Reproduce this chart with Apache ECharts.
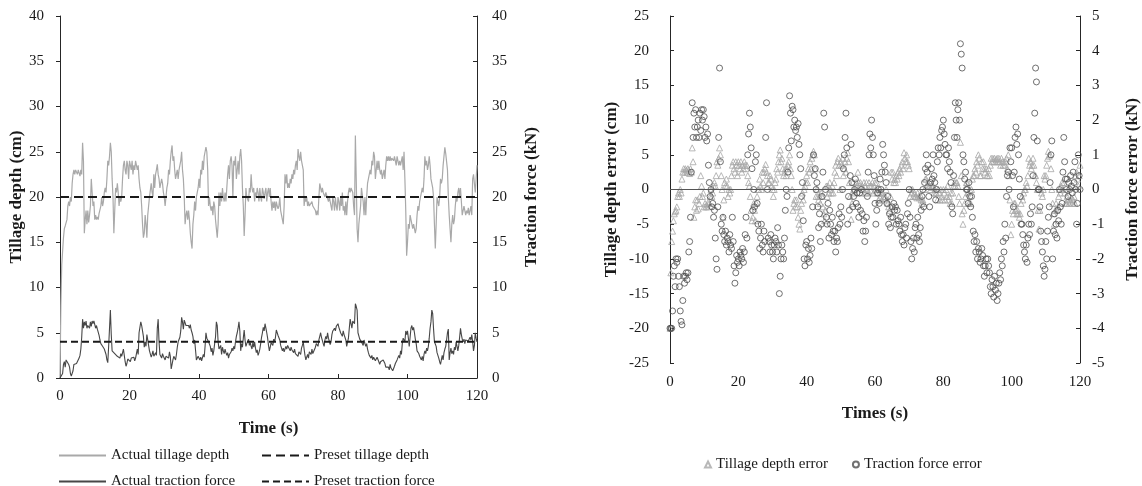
<!DOCTYPE html>
<html>
<head>
<meta charset="utf-8">
<script src="https://cdn.jsdelivr.net/npm/echarts@6/dist/echarts.min.js"></script>
<style>
html, body { margin: 0; padding: 0; background: #fff; }
#main { width: 1142px; height: 486px; }
</style>
</head>
<body>
<div id="main"></div>
<script>
// sampling step of the recorded data (s)
var step = 0.25;

// actual tillage depth (cm), one row per second
var depth = [
0, 8, 12.5, 14,  15.5, 16.5, 16.8, 17,  17.5, 19, 19.5, 19,  20, 19.5, 21.5, 22.5,
23, 22.5, 23, 22.8,  22.5, 23, 22.8, 22.3,  23, 22.5, 26, 24,  16, 17.5, 18.5, 17,
18.5, 17.2, 18, 19,  22, 20.5, 19, 19.5,  17.5, 18, 17.5, 17.8,  17.5, 18.2, 18, 19,
20, 19, 19.5, 20.5,  21, 20.5, 22, 24,  23.5, 24.5, 26, 25,  22, 20, 16, 18.5,
21, 20.5, 21.5, 20.5,  19, 20, 19.5, 20,  22, 23.5, 24, 23,  22.5, 24, 23.5, 22,
24, 23.5, 23, 24,  22.5, 23.5, 23, 24,  23.5, 23, 23.5, 22,  21, 20.5, 19, 17,
15.5, 16, 18, 17,  15.5, 18, 19, 20,  20, 21.5, 20.5, 20,  22.5, 21, 22.5, 23,
23.6, 22.5, 22, 21,  21, 22, 21.5, 20.5,  20, 19, 20, 21,  21.5, 23, 22.5, 24,
25, 25.7, 24, 24.5,  23, 22, 22.5, 23,  22, 23, 23.5, 24,  25, 23, 22, 20,
17, 18, 18.5, 17.5,  18.5, 17.5, 16, 15,  14.3, 17, 18, 19.5,  18.5, 20, 20.5, 21,
22, 21, 23, 22.5,  24, 23, 24.5, 25,  25.5, 25, 23, 19,  20, 19, 18.5, 19,
18, 19.5, 19, 17.5,  16.5, 15.5, 17, 20.5,  19, 20.5, 19.5, 21,  20, 19.5, 20.5, 19.5,
21, 22.5, 23.5, 22,  24, 24.5, 23.5, 20,  24, 23.5, 24.5, 22,  23, 24, 22.5, 24.5,
25.3, 24, 21, 19,  15.7, 18, 21, 20,  20, 19.5, 21, 20.5,  22.5, 21, 20.5, 21,
19.5, 20.5, 20, 21,  20.5, 19.5, 21, 20,  19.5, 21, 20.5, 19.8,  20.5, 21, 19.5, 20.5,
21, 20, 21, 19.5,  18.5, 19.5, 18.8, 19.5,  18.5, 19.5, 19, 18.7,  19, 20, 18.5, 18,
17.5, 17, 19, 22.5,  21.5, 22.5, 21, 21.5,  21, 22, 21.5, 22.5,  22, 23, 22.5, 23.5,
24, 23, 25.3, 24.5,  24, 25, 24, 23.5,  23, 19, 20, 19.5,  20, 19, 19.5, 19,
19, 18.8, 19.5, 19,  18.8, 19.2, 18.5, 18,  18.5, 18, 20, 21.5,  21.5, 20.5, 21, 20.5,
20.5, 20, 20.5, 20.3,  20.5, 19.5, 20, 19.5,  19.5, 18.5, 20, 19.5,  18.5, 20, 19, 18.5,
20, 19.5, 18.5, 20,  19, 20.5, 18.5, 19,  18, 19.5, 18, 19.5,  20.5, 21, 20.5, 21,
21, 20.5, 19, 18,  26.8, 22, 16.5, 15,  17, 18, 19, 21,  21, 19.5, 18, 20,
18, 20, 21.5, 22,  22, 23, 22.5, 24,  23.5, 25, 24.5, 22,  22, 24, 23, 24,
23, 22.5, 23, 22,  22, 23, 22, 23.5,  24.5, 24, 24.5, 24,  24.5, 24, 24.3, 24.5,
24, 24.5, 24, 23.5,  24.5, 24, 23.5, 24,  23.5, 24, 24.5, 23,  25, 22, 18.5, 13.5,
15, 17, 16.5, 18,  18, 17, 16.5, 17,  16.5, 16, 16.5, 18,  19, 18.5, 19.5, 20,
20, 21, 20.5, 22,  24.5, 23.5, 24, 23,  23.5, 24.5, 23.5, 22,  22, 21, 20, 17,
14.3, 17, 20, 19.5,  19, 20, 22, 21.5,  22, 23.5, 24.5, 25.5,  24.8, 25, 23, 20,
18, 16.5, 15, 17,  18, 17, 17.5, 19,  20, 19.5, 20.5, 21,  20, 21, 19.5, 18,
18, 19, 18.5, 18,  18.5, 18.2, 18.8, 18,  18.5, 19, 18, 22,  22.5, 21.5, 20.5, 22,
23.5
];

// actual traction force (kN), one row per second
var force = [
0, 0, 0, 0.5,  1.5, 1.8, 1.2, 2,  1.9, 2, 1.5, 1.2,  0.5, 0.2, 0.1, 0.8,
1.5, 1.3, 1.5, 1.6,  1.4, 1.6, 2.2, 2.5,  3.2, 4.5, 6.5, 5.5,  6.2, 5.8, 6.3, 5.5,
5.8, 6.0, 5.5, 6.2,  5.7, 6.3, 6.0, 6.3,  6.1, 5.5, 5.8, 5.4,  5.6, 4.7, 4.2, 3.8,
4.0, 3.5, 3.6, 3.2,  3.4, 2.6, 2.0, 1.7,  3.5, 5.5, 7.5, 4.8,  3.0, 2.8, 3.2, 2.7,
2.5, 2.8, 2.4, 2.6,  2.5, 2.2, 2.7, 2.4,  2.3, 3.2, 2.5, 1.8,  1.3, 1.6, 2.1, 1.9,
2.0, 1.8, 2.2, 2.1,  2.0, 2.3, 1.9, 2.2,  2.7, 3.2, 2.6, 5.0,  5.6, 6.2, 5.8, 5.2,
4.6, 3.4, 4.0, 3.5,  4.8, 5.0, 3.6, 3.0,  2.8, 2.3, 2.6, 3.0,  2.4, 2.2, 2.8, 2.5,
5.5, 6.5, 4.0, 2.6,  2.5, 2.2, 2.7, 2.4,  2.2, 2.0, 2.4, 2.6,  2.5, 2.2, 2.9, 2.4,
1.0, 1.5, 2.0, 2.4,  2.2, 2.0, 2.6, 3.4,  4.0, 3.8, 4.5, 5.2,  6.7, 6.2, 5.4, 6.4,
6.3, 5.8, 6.0, 5.7,  5.8, 5.5, 5.9, 5.3,  5.0, 4.6, 3.8, 4.2,  3.1, 2.0, 1.8, 2.4,
2.5, 2.0, 2.3, 1.9,  2.1, 2.6, 2.3, 3.5,  5.0, 4.4, 4.6, 4.0,  4.2, 3.5, 2.9, 3.3,
2.5, 3.0, 3.8, 4.5,  6.2, 5.8, 4.0, 3.2,  3.0, 3.6, 2.6, 3.4,  3.0, 2.7, 3.2, 2.8,
2.5, 2.8, 2.2, 2.6,  2.5, 2.9, 3.3, 3.0,  3.5, 3.2, 4.0, 4.6,  5.0, 5.5, 6.2, 5.2,
3.0, 3.8, 3.4, 4.4,  5.3, 4.2, 3.5, 3.8,  4.0, 4.3, 3.6, 3.9,  3.5, 3.2, 3.9, 3.4,
4.0, 3.3, 2.8, 3.1,  2.5, 2.8, 3.2, 3.8,  4.5, 5.0, 5.6, 5.2,  6.0, 5.5, 5.0, 4.4,
3.6, 3.0, 3.4, 3.9,  4.0, 3.6, 4.3, 4.0,  4.5, 5.3, 5.0, 4.7,  4.5, 4.2, 3.6, 3.8,
3.0, 3.3, 2.9, 3.2,  3.5, 3.2, 3.6, 3.4,  3.5, 3.0, 3.4, 3.1,  3.0, 2.8, 3.2, 2.7,
2.5, 2.7, 2.4, 2.9,  3.0, 2.6, 3.3, 3.6,  4.0, 3.2, 2.5, 2.0,  2.3, 2.6, 2.2, 2.9,
3.0, 2.6, 3.2, 2.7,  2.5, 2.9, 3.4, 3.8,  4.0, 3.5, 4.2, 4.6,  5.0, 4.5, 4.7, 3.8,
3.5, 4.2, 4.6, 4.3,  5.0, 4.4, 4.2, 3.7,  4.0, 4.8, 5.2, 5.0,  5.5, 5.2, 5.7, 5.8,
6.0, 5.6, 5.3, 5.0,  5.0, 4.6, 5.2, 4.8,  4.5, 4.2, 3.5, 3.3,  4.4, 5.5, 6.5, 6.0,
5.5, 6.3, 6.5, 6.0,  8.2, 7.9, 7.5, 5.0,  4.8, 4.3, 4.5, 4.0,  4.0, 3.6, 4.2, 3.8,
3.5, 3.8, 3.2, 2.8,  2.5, 2.7, 2.2, 2.5,  2.0, 2.3, 2.2, 1.9,  2.0, 2.3, 2.1, 1.8,
1.5, 1.8, 2.0, 1.6,  2.0, 1.8, 1.6, 1.2,  1.0, 1.4, 1.2, 0.9,  1.5, 1.1, 1.3, 0.8,
1.0, 1.3, 1.6, 1.4,  2.0, 1.8, 2.5, 2.2,  3.0, 2.6, 3.8, 4.4,  4.5, 4.0, 5.2, 4.8,
5.2, 4.4, 3.5, 4.5,  5.5, 5.8, 5.3, 5.6,  5.0, 4.3, 3.8, 3.0,  3.0, 2.7, 2.4, 2.2,
2.0, 2.4, 1.9, 2.6,  3.0, 2.7, 3.3, 3.0,  3.5, 4.4, 5.5, 6.2,  7.5, 7.1, 5.4, 4.0,
4.0, 3.5, 2.8, 2.5,  2.2, 1.8, 1.5, 1.7,  2.5, 2.0, 2.8, 3.2,  3.5, 4.2, 5.0, 5.4,
2.0, 2.8, 3.3, 2.7,  3.0, 2.6, 3.4, 3.1,  4.0, 3.5, 3.0, 3.6,  4.5, 5.5, 4.8, 4.3,
4.0, 4.3, 3.8, 4.2,  4.0, 4.4, 4.1, 3.9,  4.5, 4.2, 4.8, 4.0,  3.0, 3.6, 5.0, 4.4,
4.0
];

// preset values
var presetDepth = 20;   // cm
var presetForce = 4;    // kN
var timeRange = [0, 120];

var depthData = depth.map(function (v, i) { return [i * step, v]; });
var forceData = force.map(function (v, i) { return [i * step, v]; });
var depthErr = depth.map(function (v, i) { return [i * step, +(v - presetDepth).toFixed(2)]; });
var forceErr = force.map(function (v, i) { return [i * step, +(v - presetForce).toFixed(2)]; });

var font = 'Liberation Serif';
var txt = '#1a1a1a';
var axisCol = '#262626';
var lab = { fontFamily: font, fontSize: 15, color: txt };
var nameStyle = { fontFamily: font, fontSize: 17, fontWeight: 'bold', color: txt };

var myChart = echarts.init(document.getElementById('main'));

var lineLegend = function (name, left, top) {
    return { data: [name], left: left, top: top, itemWidth: 47, itemHeight: 14,
             itemStyle: { opacity: 0 }, textStyle: lab };
};

var option = {
    animation: false,
    backgroundColor: '#fff',
    grid: [
        { left: 60, right: 665, top: 16, bottom: 108, containLabel: false, outerBoundsMode: 'none' },
        { left: 670, right: 62, top: 16, bottom: 123, containLabel: false, outerBoundsMode: 'none' }
    ],
    xAxis: [{
        gridIndex: 0, type: 'value', min: 0, max: 120, interval: 20,
        axisLine: { lineStyle: { color: axisCol } },
        axisTick: { inside: true, length: 4, lineStyle: { color: axisCol } },
        axisLabel: Object.assign({ margin: 11 }, lab),
        splitLine: { show: false },
        name: 'Time (s)', nameLocation: 'middle', nameGap: 42, nameTextStyle: nameStyle
    }, {
        // zero line is drawn as a markLine, labels stay at the bottom
        gridIndex: 1, type: 'value', min: 0, max: 120, interval: 20,
        axisLine: { show: false, onZero: false },
        axisTick: { show: false },
        axisLabel: Object.assign({ margin: 12 }, lab),
        splitLine: { show: false },
        name: 'Times (s)', nameLocation: 'middle', nameGap: 42, nameTextStyle: nameStyle
    }],
    yAxis: [{
        gridIndex: 0, type: 'value', position: 'left', min: 0, max: 40, interval: 5,
        axisLine: { show: true, lineStyle: { color: axisCol } },
        axisTick: { show: true, length: 4, lineStyle: { color: axisCol } },
        axisLabel: Object.assign({ margin: 16 }, lab),
        splitLine: { show: false },
        name: 'Tillage depth (cm)', nameLocation: 'middle', nameRotate: 90, nameGap: 34, nameTextStyle: nameStyle
    }, {
        gridIndex: 0, type: 'value', position: 'right', min: 0, max: 40, interval: 5,
        axisLine: { show: true, lineStyle: { color: axisCol } },
        axisTick: { show: true, inside: true, length: 4, lineStyle: { color: axisCol } },
        axisLabel: Object.assign({ margin: 15 }, lab),
        splitLine: { show: false },
        name: 'Traction force (kN)', nameLocation: 'middle', nameRotate: 90, nameGap: 46, nameTextStyle: nameStyle
    }, {
        gridIndex: 1, type: 'value', position: 'left', min: -25, max: 25, interval: 5,
        axisLine: { show: true, onZero: false, lineStyle: { color: axisCol } },
        axisTick: { show: true, inside: true, length: 4, lineStyle: { color: axisCol } },
        axisLabel: Object.assign({ margin: 21 }, lab),
        splitLine: { show: false },
        name: 'Tillage depth error (cm)', nameLocation: 'middle', nameRotate: 90, nameGap: 50, nameTextStyle: nameStyle
    }, {
        gridIndex: 1, type: 'value', position: 'right', min: -5, max: 5, interval: 1,
        axisLine: { show: true, onZero: false, lineStyle: { color: axisCol } },
        axisTick: { show: true, inside: true, length: 4, lineStyle: { color: axisCol } },
        axisLabel: Object.assign({ margin: 12 }, lab),
        splitLine: { show: false },
        name: 'Traction force error (kN)', nameLocation: 'middle', nameRotate: 90, nameGap: 44, nameTextStyle: nameStyle
    }],
    legend: [
        lineLegend('Actual tillage depth', 53, 443),
        lineLegend('Preset tillage depth', 256, 443),
        lineLegend('Actual traction force', 53, 469),
        lineLegend('Preset traction force', 256, 469),
        { data: ['Tillage depth error', 'Traction force error'], left: 699, top: 452,
          itemWidth: 6, itemHeight: 6, itemGap: 24, textStyle: lab }
    ],
    series: [{
        name: 'Actual tillage depth', type: 'line', xAxisIndex: 0, yAxisIndex: 0,
        data: depthData, symbol: 'none',
        lineStyle: { color: '#a9a9a9', width: 1.2 }, itemStyle: { color: '#a9a9a9' }
    }, {
        name: 'Preset tillage depth', type: 'line', xAxisIndex: 0, yAxisIndex: 0,
        data: [[timeRange[0], presetDepth], [timeRange[1], presetDepth]], symbol: 'none', z: 3,
        lineStyle: { color: '#1a1a1a', width: 2, type: [9, 5] }, itemStyle: { color: '#1a1a1a' }
    }, {
        name: 'Actual traction force', type: 'line', xAxisIndex: 0, yAxisIndex: 1,
        data: forceData, symbol: 'none',
        lineStyle: { color: '#474747', width: 1.1 }, itemStyle: { color: '#474747' }
    }, {
        name: 'Preset traction force', type: 'line', xAxisIndex: 0, yAxisIndex: 1,
        data: [[timeRange[0], presetForce], [timeRange[1], presetForce]], symbol: 'none', z: 3,
        lineStyle: { color: '#1a1a1a', width: 2, type: [7, 4] }, itemStyle: { color: '#1a1a1a' }
    }, {
        name: 'Tillage depth error', type: 'scatter', xAxisIndex: 1, yAxisIndex: 2,
        data: depthErr, symbol: 'triangle', symbolSize: 6,
        itemStyle: { color: 'rgba(0,0,0,0)', borderColor: '#a6a6a6', borderWidth: 1 },
        markLine: {
            silent: true, symbol: ['none', 'none'], label: { show: false },
            lineStyle: { color: '#555', type: 'solid', width: 1 },
            data: [{ yAxis: 0 }]
        }
    }, {
        name: 'Traction force error', type: 'scatter', xAxisIndex: 1, yAxisIndex: 3,
        data: forceErr, symbol: 'circle', symbolSize: 6,
        itemStyle: { color: 'rgba(0,0,0,0)', borderColor: '#4d4d4d', borderWidth: 1 }
    }]
};

myChart.setOption(option);
</script>
</body>
</html>
